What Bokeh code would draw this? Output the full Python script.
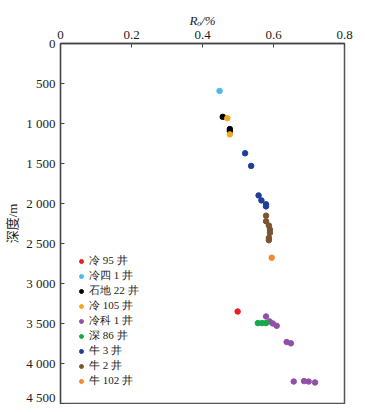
from bokeh.plotting import figure
from bokeh.models import Range1d, FixedTicker, LinearAxis, Legend, LegendItem
from bokeh.embed import file_html
from bokeh.resources import INLINE

SERIF = "Liberation Serif, Noto Sans CJK SC"

wells = ["冷 95 井", "冷四 1 井", "石地 22 井", "冷 105 井", "冷科 1 井", "深 86 井", "牛 3 井", "牛 2 井", "牛 102 井"]
colors = ["#ee1c25", "#4db8ea", "#000000", "#f7a823", "#9050a8", "#18a84c", "#1f3e9a", "#7b5530", "#f28a30"]

ro_l95 = [0.499]
dep_l95 = [3350]
ro_l4 = [0.448]
dep_l4 = [593]
ro_sd22 = [0.457, 0.477, 0.477]
dep_sd22 = [917, 1070, 1095]
ro_l105 = [0.470, 0.477]
dep_l105 = [933, 1136]
ro_lk1 = [0.579, 0.589, 0.598, 0.609, 0.637, 0.649, 0.657, 0.686, 0.699, 0.717]
dep_lk1 = [3412, 3474, 3500, 3529, 3731, 3748, 4225, 4220, 4225, 4237]
ro_s86 = [0.556, 0.568, 0.579]
dep_s86 = [3495, 3495, 3495]
ro_n3 = [0.520, 0.537, 0.558, 0.566, 0.579, 0.579]
dep_n3 = [1372, 1530, 1899, 1961, 2010, 2036]
ro_n2 = [0.579, 0.579, 0.587, 0.590, 0.590, 0.587, 0.587]
dep_n2 = [2152, 2222, 2276, 2326, 2367, 2430, 2459]
ro_n102 = [0.595]
dep_n102 = [2678]

series = [(ro_l95, dep_l95), (ro_l4, dep_l4), (ro_sd22, dep_sd22), (ro_l105, dep_l105),
          (ro_lk1, dep_lk1), (ro_s86, dep_s86), (ro_n3, dep_n3), (ro_n2, dep_n2), (ro_n102, dep_n102)]

x_title = "Rₒ/%"
y_title = "深度/m"
x_ticks = [0, 0.2, 0.4, 0.6, 0.8]
x_tick_labels = ["0", "0.2", "0.4", "0.6", "0.8"]
y_ticks = [0, 500, 1000, 1500, 2000, 2500, 3000, 3500, 4000, 4500]
y_tick_labels = ["0", "500", "1 000", "1 500", "2 000", "2 500", "3 000", "3 500", "4 000", "4 500"]

p = figure(width=357, height=404, output_backend="svg", toolbar_location=None,
           x_range=Range1d(0, 0.8), y_range=Range1d(4500, 0),
           x_axis_location=None, y_axis_location=None,
           min_border_left=60, min_border_right=13, min_border_top=43, min_border_bottom=1)
p.grid.visible = False
p.outline_line_color = "#555555"
p.outline_line_width = 1.5
p.background_fill_color = "white"
p.border_fill_color = "white"

xa = LinearAxis(ticker=FixedTicker(ticks=x_ticks))
xa.major_label_overrides = {t: l for t, l in zip(x_ticks, x_tick_labels)}
ya = LinearAxis(ticker=FixedTicker(ticks=y_ticks))
ya.major_label_overrides = {t: l for t, l in zip(y_ticks, y_tick_labels)}
for ax in (xa, ya):
    ax.major_tick_in = 4
    ax.major_tick_out = 0
    ax.minor_tick_in = 0
    ax.minor_tick_out = 0
    ax.major_label_text_font = SERIF
    ax.major_label_text_font_size = "13px"
    ax.major_label_text_color = "#222222"
    ax.axis_line_color = "#444444"
    ax.major_tick_line_color = "#444444"
    ax.major_label_standoff = 5
    ax.axis_label_text_font = SERIF
    ax.axis_label_text_font_size = "13px"
    ax.axis_label_text_color = "#222222"
xa.axis_line_width = 1.5
ya.axis_line_width = 1.2
xa.axis_label = x_title
xa.axis_label_text_font_style = "italic"
xa.axis_label_standoff = 0
ya.axis_label = y_title
ya.axis_label_text_font_style = "normal"
ya.axis_label_standoff = 3
p.add_layout(xa, "above")
p.add_layout(ya, "left")

items = []
for name, col, (xs, ys) in zip(wells, colors, series):
    r = p.scatter(xs, ys, size=5.5, color=col, line_color=col)
    items.append(LegendItem(label=name, renderers=[r]))

leg = Legend(items=items, location=(16, 15), padding=0, margin=0, spacing=0,
             glyph_height=12, glyph_width=10, label_height=12, label_standoff=3,
             label_text_font="Liberation Serif", label_text_font_size="11px",
             label_text_color="#222222", label_text_line_height=1.0,
             border_line_color=None, background_fill_alpha=0)
p.add_layout(leg)

open("out.html", "w").write(file_html(p, INLINE))
